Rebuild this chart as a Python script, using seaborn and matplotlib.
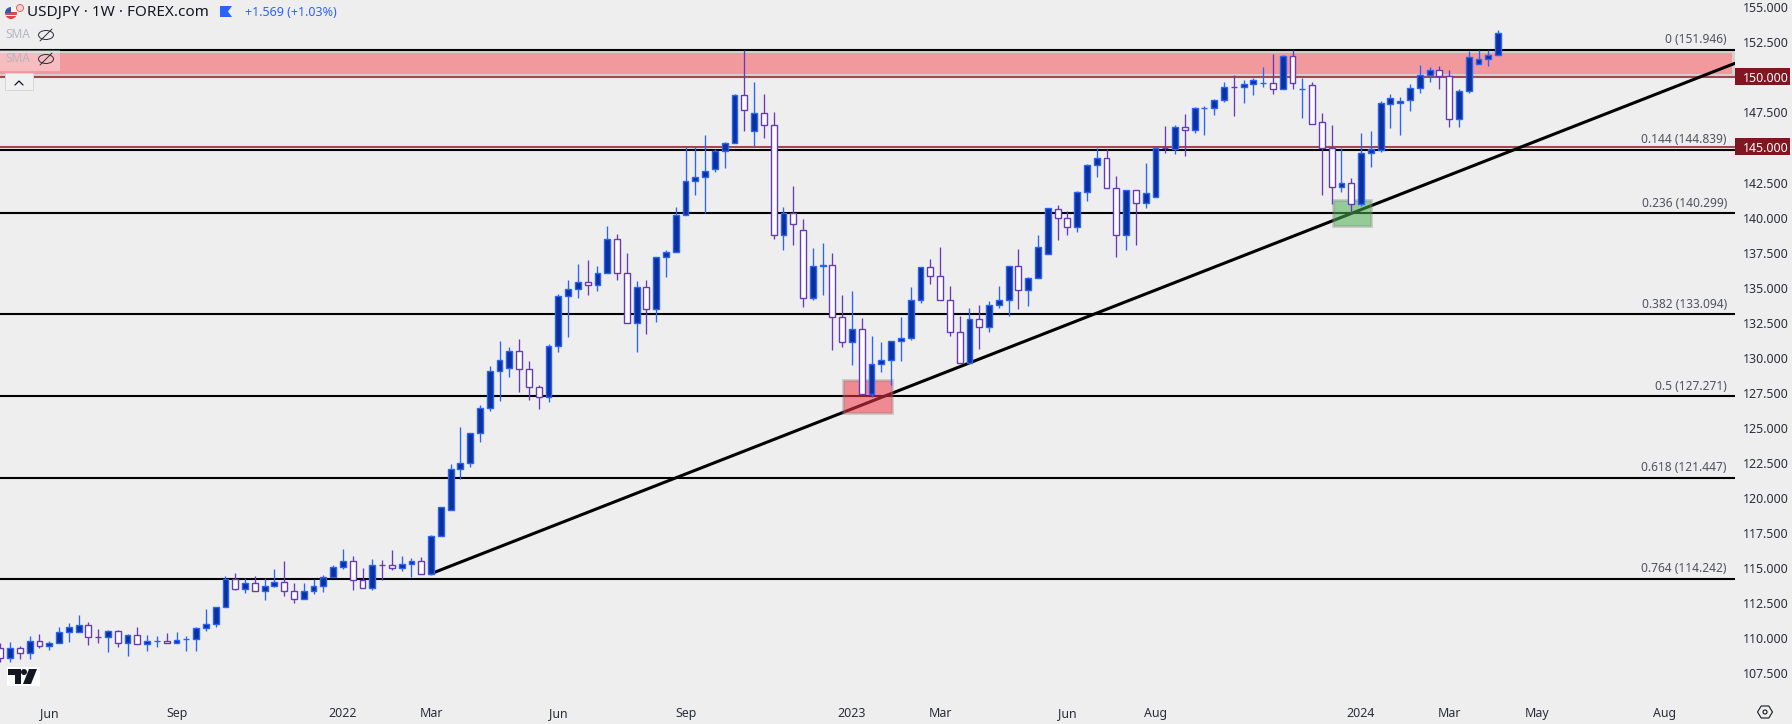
import pandas as pd
import seaborn as sns
import matplotlib
matplotlib.use('Agg')
import matplotlib.pyplot as plt
from matplotlib.patches import Rectangle, Polygon, Ellipse
from matplotlib.lines import Line2D

# Weekly USDJPY candles
opens = [109.29, 108.58, 109.29, 108.94, 109.79, 109.48, 109.65, 110.43, 110.43, 110.93,
         110.09, 110.08, 110.51, 109.65, 110.22, 109.58, 109.79, 109.79, 109.65, 109.93,
         109.94, 110.72, 111.01, 112.22, 114.21, 113.50, 113.93, 113.36, 113.71, 114.00,
         113.36, 112.79, 113.36, 113.71, 114.35, 115.07, 115.50, 114.14, 113.57, 115.22,
         115.21, 115.00, 115.28, 115.50, 114.62, 117.28, 119.13, 122.06, 122.48, 124.62,
         126.41, 129.04, 129.26, 130.47, 129.18, 127.90, 127.19, 130.82, 134.39, 134.89,
         135.39, 135.17, 136.03, 138.45, 136.03, 132.46, 135.03, 133.46, 137.17, 137.52,
         140.16, 142.58, 142.87, 143.44, 144.72, 145.29, 148.71, 146.15, 147.43, 146.57,
         138.73, 140.30, 139.09, 134.24, 136.58, 136.59, 132.89, 131.11, 132.04, 127.40,
         129.54, 129.83, 131.18, 131.39, 134.10, 136.45, 135.81, 134.10, 131.82, 129.61,
         132.75, 132.18, 133.75, 134.10, 136.53, 134.82, 135.67, 137.38, 140.59, 139.95,
         139.31, 141.80, 143.72, 144.22, 142.08, 138.74, 141.94, 141.06, 141.49, 144.94,
         144.86, 146.43, 146.22, 147.80, 147.79, 148.36, 149.29, 149.28, 149.50, 149.56,
         149.57, 149.14, 151.49, 149.13, 149.43, 146.79, 144.93, 142.16, 142.44, 140.95,
         144.60, 144.82, 148.10, 148.14, 148.36, 149.21, 150.14, 150.50, 150.07, 147.00,
         149.00, 150.92, 151.28, 151.57]
highs = [109.65, 109.72, 109.46, 110.17, 110.32, 109.82, 110.81, 111.08, 111.67, 111.17,
         110.65, 110.60, 110.60, 110.32, 110.81, 110.24, 110.17, 110.36, 110.46, 110.17,
         110.79, 112.10, 112.22, 114.45, 114.66, 114.28, 114.45, 114.28, 114.95, 115.52,
         113.93, 113.95, 114.21, 114.50, 115.21, 116.35, 115.88, 115.02, 115.64, 115.59,
         116.28, 115.88, 115.74, 115.81, 117.38, 119.37, 122.44, 125.07, 124.62, 126.64,
         129.42, 131.20, 130.78, 131.35, 129.75, 128.04, 130.99, 134.55, 135.55, 136.69,
         136.98, 136.55, 139.40, 138.83, 137.48, 135.48, 135.55, 137.17, 137.69, 140.73,
         145.00, 145.00, 145.86, 144.86, 145.36, 148.81, 151.95, 149.66, 148.81, 147.50,
         140.73, 142.25, 139.87, 137.81, 138.16, 137.45, 134.46, 134.74, 132.84, 131.56,
         131.11, 131.18, 132.89, 135.05, 136.45, 137.03, 137.88, 135.12, 133.01, 133.53,
         133.75, 134.03, 135.10, 136.53, 137.74, 135.74, 138.74, 140.66, 140.87, 140.45,
         141.87, 143.82, 144.96, 144.89, 142.96, 141.94, 141.94, 143.87, 144.93, 146.53,
         146.60, 147.38, 147.88, 147.95, 148.45, 149.66, 150.16, 149.81, 149.93, 150.73,
         151.66, 151.59, 151.95, 149.95, 149.66, 147.45, 146.60, 144.96, 142.82, 146.00,
         146.20, 148.30, 148.80, 148.62, 149.52, 150.88, 150.73, 150.80, 150.52, 149.14,
         151.90, 151.95, 151.95, 153.37]
lows = [108.34, 108.34, 108.56, 108.56, 109.34, 109.17, 109.65, 109.75, 110.43, 109.56,
        109.70, 109.03, 109.39, 108.75, 109.58, 109.13, 109.39, 109.65, 109.65, 109.10,
        109.10, 110.55, 110.84, 112.22, 113.43, 113.26, 113.36, 112.74, 113.64, 113.05,
        112.55, 112.79, 113.19, 113.33, 114.35, 114.97, 113.48, 113.57, 113.48, 114.16,
        114.88, 114.83, 114.40, 114.62, 114.53, 117.28, 119.13, 121.34, 122.25, 124.03,
        126.24, 126.95, 128.66, 127.55, 127.02, 126.38, 126.88, 130.44, 131.51, 134.29,
        134.51, 134.79, 136.03, 135.58, 132.46, 130.44, 131.73, 132.58, 135.79, 137.52,
        140.16, 141.61, 140.30, 143.27, 143.56, 145.29, 146.19, 145.13, 145.70, 138.50,
        137.71, 138.07, 133.65, 134.15, 134.51, 130.58, 130.80, 129.52, 127.40, 127.21,
        129.02, 128.09, 129.78, 131.28, 133.94, 135.29, 134.10, 131.58, 129.61, 129.61,
        130.66, 131.87, 133.58, 133.01, 133.51, 133.70, 135.67, 137.38, 138.40, 138.78,
        139.00, 141.20, 142.92, 142.08, 137.21, 137.69, 138.05, 140.71, 141.49, 144.60,
        144.53, 144.39, 146.05, 145.89, 147.31, 148.24, 147.24, 148.17, 148.74, 149.31,
        148.81, 149.14, 149.16, 147.10, 146.65, 141.61, 140.97, 141.82, 140.30, 140.85,
        143.60, 144.70, 146.40, 145.89, 147.62, 148.90, 149.69, 149.19, 146.48, 146.48,
        148.90, 150.92, 150.83, 151.57]
closes = [108.58, 109.29, 108.94, 109.79, 109.48, 109.65, 110.43, 110.79, 110.93, 110.08,
          110.07, 110.51, 109.65, 110.22, 109.58, 109.79, 109.80, 109.65, 109.86, 109.94,
          110.72, 111.01, 112.22, 114.21, 113.50, 113.93, 113.36, 113.71, 114.00, 113.36,
          112.79, 113.36, 113.71, 114.35, 115.07, 115.50, 114.14, 113.57, 115.21, 115.20,
          115.00, 115.28, 115.50, 114.62, 117.28, 119.35, 122.06, 122.48, 124.62, 126.41,
          129.04, 129.83, 130.47, 129.19, 127.90, 127.19, 130.82, 134.39, 134.89, 135.39,
          135.17, 136.03, 138.45, 136.03, 132.46, 135.03, 133.46, 137.17, 137.52, 140.16,
          142.58, 142.87, 143.30, 144.72, 145.29, 148.71, 147.64, 147.43, 146.57, 138.73,
          140.30, 139.52, 134.24, 136.52, 136.59, 132.89, 131.11, 132.03, 127.40, 129.54,
          129.83, 131.18, 131.39, 134.10, 136.45, 135.81, 134.10, 131.82, 129.61, 132.75,
          132.18, 133.75, 134.10, 136.53, 134.82, 135.67, 137.88, 140.66, 139.95, 139.31,
          141.80, 143.72, 144.22, 142.08, 138.73, 141.94, 141.06, 141.73, 144.93, 144.93,
          146.43, 146.22, 147.79, 147.81, 148.36, 149.28, 149.28, 149.50, 149.78, 149.57,
          149.14, 151.49, 149.57, 149.14, 146.65, 144.93, 142.16, 142.44, 140.94, 144.58,
          144.90, 148.17, 148.55, 148.31, 149.21, 150.14, 150.50, 150.07, 147.00, 149.00,
          151.42, 151.28, 151.57, 153.13]

fib_ratios = ['0', '0.144', '0.236', '0.382', '0.5', '0.618', '0.764']
fib_levels = [151.946, 144.839, 140.299, 133.094, 127.271, 121.447, 114.242]
price_ticks = [107.5, 110, 112.5, 115, 117.5, 120, 122.5, 125, 127.5, 130, 132.5, 135,
               137.5, 140, 142.5, 145, 147.5, 150, 152.5, 155]
marked_levels = [150, 145]

# bar number of each month label on the time axis
date_bars = [5, 18, 35, 44, 57, 70, 87, 96, 109, 118, 139, 148, 157, 170]
date_labels = ['Jun', 'Sep', '2022', 'Mar', 'Jun', 'Sep', '2023', 'Mar', 'Jun', 'Aug',
               '2024', 'Mar', 'May', 'Aug']

trend_bars = [44.2, 177.2]
trend_prices = [114.67, 151.0]

BG = '#eeeeee'
UP_FILL = '#0c3299'
UP_EDGE = '#2962ff'
DOWN_FILL = '#ffffff'
DOWN_EDGE = '#673ab7'
LEVEL_RED = '#a04a50'
LABEL_RED = '#7f1620'
TEXT = '#2a2e39'
W, H = 1792, 724


def fx(px):
    return px / W


def fy(px):
    return 1 - px / H


def add_fig_patch(fig, patch):
    patch.set_transform(fig.transFigure)
    fig.add_artist(patch)


def fig_poly(fig, points, **kw):
    pts = [(fx(x), fy(y)) for x, y in points]
    add_fig_patch(fig, Polygon(pts, closed=True, **kw))


def draw_candles(ax, df):
    df = df.copy()
    df['bar'] = range(len(df))
    df['up'] = df['close'] >= df['open']
    df['bottom'] = df[['open', 'close']].min(axis=1)
    df['body'] = (df['close'] - df['open']).abs()

    for is_up, fill, edge in [(True, UP_FILL, UP_EDGE), (False, DOWN_FILL, DOWN_EDGE)]:
        part = df[df['up'] == is_up]
        ax.vlines(part['bar'], part['low'], part['high'], color=edge, lw=0.95, zorder=4)
        sns.barplot(data=part, x='bar', y='body', bottom=part['bottom'].values, native_scale=True,
                    width=0.6, color=fill, saturation=1, edgecolor=edge, linewidth=1.0,
                    errorbar=None, ax=ax, zorder=5)


def draw_levels(ax):
    # resistance band around the 150 handle
    ax.axhspan(150.02, 151.946, color='#d2d2d2', lw=0, zorder=1)
    ax.add_patch(Rectangle((-1, 150.24), 177.9, 1.49, fc='#f2999e', ec='none', zorder=1.1))
    for level in marked_levels:
        ax.axhline(level, color=LEVEL_RED, lw=1.5, zorder=2)

    for ratio, level in zip(fib_ratios, fib_levels):
        ax.axhline(level, color='black', lw=1.5, zorder=2.1)
        ax.annotate(f'{ratio} ({level:.3f})', xy=(1, level), xycoords=ax.get_yaxis_transform(),
                    xytext=(-5.8, 2.6), textcoords='offset points', ha='right', va='bottom',
                    fontsize=8.6, color='#50535e', zorder=6)

    sns.lineplot(x=trend_bars, y=trend_prices, color='black', lw=2.2, ax=ax, zorder=3)

    # boxes around the two swing lows
    ax.add_patch(Rectangle((86.05, 126.1), 5.0, 2.3, fc=(0.949, 0.212, 0.271, 0.55),
                           ec=(0.5, 0.5, 0.5, 0.3), lw=2.2, zorder=3.2))
    ax.add_patch(Rectangle((136.1, 139.43), 3.95, 1.79, fc=(0.298, 0.686, 0.314, 0.55),
                           ec=(0.5, 0.5, 0.5, 0.3), lw=2.2, zorder=3.2))


def draw_axes(ax):
    ax.set_xlim(-0.03, 177.2)
    ax.set_ylim(106.18, 155.51)
    ax.set_xlabel('')
    ax.set_ylabel('')
    for side in ax.spines:
        ax.spines[side].set_visible(False)

    ax.yaxis.tick_right()
    ax.set_yticks(price_ticks, [f'{p:.3f}' for p in price_ticks])
    ax.tick_params(axis='y', length=0, pad=5.6, labelsize=8.9, labelcolor=TEXT)
    ax.set_xticks(date_bars, date_labels)
    ax.tick_params(axis='x', length=0, pad=10.5, labelsize=8.9, labelcolor=TEXT)

    for tick, label in zip(date_labels, ax.get_xticklabels()):
        if tick.isdigit():
            label.set_fontweight('bold')

    for label, price in zip(ax.get_yticklabels(), price_ticks):
        if price in marked_levels:
            label.set_color('white')
            label.set_fontweight('bold')
            # sits under the axis labels, which seaborn's style puts at zorder 0.5
            ax.add_patch(Rectangle((1.0, price - 0.55), 0.0317, 1.2, transform=ax.get_yaxis_transform(),
                                   fc=LABEL_RED, ec='none', clip_on=False, zorder=0.4))


def draw_header(fig):
    # symbol flag, clipped to a round badge
    add_fig_patch(fig, Ellipse((fx(20), fy(8)), 7 / W, 7 / H, fc='#f5d0d0', ec='#e05050', lw=0.6))
    badge = Ellipse((fx(11), fy(13)), 12 / W, 12 / H, fc='#f8f8f8', ec='none')
    add_fig_patch(fig, badge)
    for patch in [Rectangle((fx(5), fy(19)), 12 / W, 3 / H, fc='#e0444c', ec='none'),
                  Rectangle((fx(5), fy(14.5)), 12 / W, 2 / H, fc='#e0444c', ec='none'),
                  Rectangle((fx(5), fy(13)), 6 / W, 6 / H, fc='#3557a8', ec='none')]:
        add_fig_patch(fig, patch)
        patch.set_clip_path(badge)

    fig.text(fx(27), fy(12), 'USDJPY \u00b7 1W \u00b7 FOREX.com', fontsize=11.0, color='#131722', va='center')
    fig_poly(fig, [(220, 6), (232, 6), (228, 11.5), (232, 17), (220, 17)], fc=UP_EDGE, ec='none')
    fig.text(fx(245), fy(12), '+1.569 (+1.03%)', fontsize=9.0, color=UP_EDGE, va='center')

    # collapsed indicators
    add_fig_patch(fig, Rectangle((0, fy(71)), fx(60), 21 / H, fc=(1, 1, 1, 0.35), ec='none'))
    for y in (35, 59):
        fig.text(fx(5), fy(y), 'SMA', fontsize=8.6, color='#b4b7bf', va='center')
        add_fig_patch(fig, Ellipse((fx(46), fy(y)), 15 / W, 9 / H, fc='none', ec='#2a2e39', lw=0.7))
        fig.add_artist(Line2D([fx(40), fx(52)], [fy(y + 6), fy(y - 6)], color='#2a2e39', lw=0.7))

    # collapse button
    add_fig_patch(fig, Rectangle((fx(5), fy(90)), 28 / W, 17 / H, fc='#f1f1f1', ec='#d6d6d6', lw=0.7))
    fig.add_artist(Line2D([fx(15), fx(19), fx(23)], [fy(85), fy(81), fy(85)], color='#131722', lw=0.9))


def draw_logo(fig):
    dark = '#131722'
    add_fig_patch(fig, Rectangle((fx(7), fy(686)), 33 / W, 19 / H, fc='white', ec='none'))
    fig_poly(fig, [(8, 669), (21, 669), (21, 684), (15, 684), (15, 675), (8, 675)], fc=dark, ec='none')
    add_fig_patch(fig, Ellipse((fx(24), fy(672)), 6 / W, 6 / H, fc=dark, ec='none'))
    fig_poly(fig, [(29, 669), (37, 669), (31, 684), (23, 684)], fc=dark, ec='none')


def draw_gear(fig):
    cx, cy = 1765, 712
    pts = [(cx - 7.5, cy), (cx - 3.8, cy - 6), (cx + 3.8, cy - 6), (cx + 7.5, cy), (cx + 3.8, cy + 6), (cx - 3.8, cy + 6)]
    fig_poly(fig, pts, fc='none', ec='#131722', lw=0.8)
    add_fig_patch(fig, Ellipse((fx(cx), fy(cy)), 4 / W, 4 / H, fc='none', ec='#131722', lw=0.8))


def main():
    sns.set_theme(style='white', rc={'figure.facecolor': BG, 'axes.facecolor': BG})
    plt.rcParams['font.family'] = ['Noto Sans', 'DejaVu Sans']

    candles = pd.DataFrame({'open': opens, 'high': highs, 'low': lows, 'close': closes})

    fig = plt.figure(figsize=(W / 100, H / 100), dpi=100)
    ax = fig.add_axes([0, 1 - 692 / H, 1735 / W, 692 / H])

    draw_levels(ax)
    draw_candles(ax, candles)
    draw_axes(ax)
    draw_header(fig)
    draw_logo(fig)
    draw_gear(fig)

    fig.savefig('out.png', dpi=100, facecolor=BG)


if __name__ == "__main__":
    main()
